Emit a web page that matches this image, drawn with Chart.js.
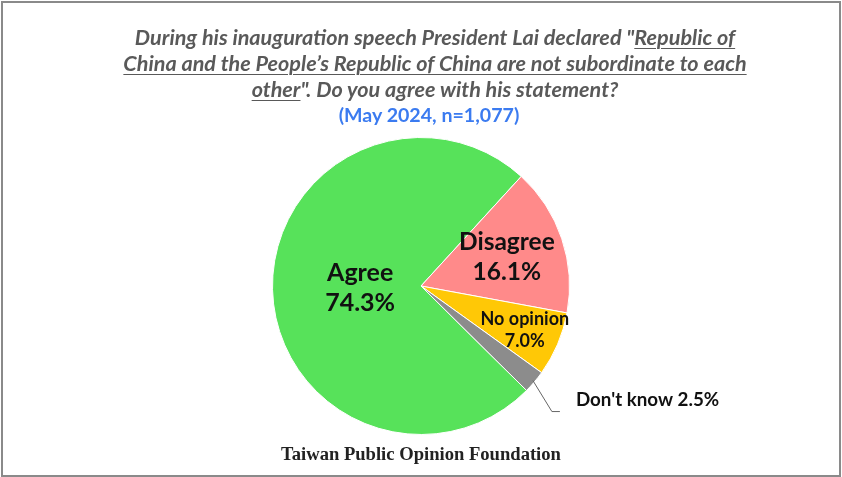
<!DOCTYPE html>
<html>
<head>
<meta charset="utf-8">
<script src="https://cdn.jsdelivr.net/npm/chart.js@4/dist/chart.umd.min.js"></script>
<style>
  body { margin: 0; background: #fff; }
  #wrap { position: relative; width: 842px; height: 477px; overflow: hidden; }
  #frame { position: absolute; left: 1px; top: 1px; width: 836px; height: 472px; border: 2px solid #8a8a8a; pointer-events: none; }
  #title { position: absolute; left: 14px; top: 24px; width: 842px; text-align: center;
           font: italic bold 21.6px Lato, sans-serif; color: #595959; line-height: 26px; }
  #title u { text-decoration-thickness: 1px; text-underline-offset: 3px; }
  #sub { position: absolute; left: 8px; top: 103px; width: 842px; text-align: center;
         font: bold 19.6px Lato, sans-serif; color: #3b7bf0; }
  #foot { position: absolute; left: 0; top: 443px; width: 842px; text-align: center;
          font: bold 18.6px "Liberation Serif", serif; color: #222; }
  canvas { position: absolute; left: 0; top: 0; }
</style>
</head>
<body>
<div id="wrap">
  <canvas id="pie" width="842" height="477"></canvas>
  <div id="title">During his inauguration speech President Lai declared "<u>Republic of</u><br><u>China and the People’s Republic of China are not subordinate to each</u><br><u>other</u>". Do you agree with his statement?</div>
  <div id="sub">(May 2024, n=1,077)</div>
  <div id="foot">Taiwan Public Opinion Foundation</div>
  <div id="frame"></div>
</div>
<script>
var categories = ['Agree', 'Disagree', 'No opinion', "Don't know"];
var values = [74.3, 16.1, 7.0, 2.5];
var colors = ['#57e25a', '#ff8a8a', '#ffc806', '#8c8c8c'];

// label placement per slice: radial fraction, font size
var labelPos = [0.41, 0.61, 0.76];
var labelSize = [25, 24.5, 18];

var sliceLabels = {
  id: 'sliceLabels',
  afterDatasetsDraw: function(chart) {
    var ctx = chart.ctx;
    var arcs = chart.getDatasetMeta(0).data;
    ctx.save();
    ctx.fillStyle = '#111';
    ctx.textAlign = 'center';
    ctx.textBaseline = 'middle';
    arcs.forEach(function(arc, i) {
      var p = arc.getProps(['x', 'y', 'startAngle', 'endAngle', 'outerRadius']);
      var mid = (p.startAngle + p.endAngle) / 2;
      var txt = values[i].toFixed(1) + '%';
      if (i < 3) {
        var r = p.outerRadius * labelPos[i];
        var cx = p.x + Math.cos(mid) * r;
        var cy = p.y + Math.sin(mid) * r;
        var fs = labelSize[i];
        ctx.font = 'bold ' + fs + 'px Lato, sans-serif';
        var gap = fs * 0.6;
        ctx.fillText(categories[i], cx, cy - gap);
        ctx.fillText(txt, cx, cy + gap);
      } else {
        // leader line for the small slice
        var sx = p.x + Math.cos(mid) * (p.outerRadius - 2);
        var sy = p.y + Math.sin(mid) * (p.outerRadius - 2);
        var ex = sx + 19, ey = sy + 31;
        ctx.strokeStyle = '#666';
        ctx.lineWidth = 1;
        ctx.beginPath();
        ctx.moveTo(sx, sy);
        ctx.lineTo(ex, ey);
        ctx.lineTo(ex + 8, ey);
        ctx.stroke();
        ctx.font = 'bold 18.8px Lato, sans-serif';
        ctx.textAlign = 'left';
        ctx.fillText(categories[i] + ' ' + txt, ex + 24, ey - 12);
      }
    });
    ctx.restore();
  }
};

new Chart(document.getElementById('pie').getContext('2d'), {
  type: 'pie',
  data: {
    labels: categories,
    datasets: [{
      data: values,
      backgroundColor: colors,
      borderColor: '#fff',
      borderWidth: 1
    }]
  },
  options: {
    responsive: false,
    animation: false,
    rotation: 134.7,
    layout: { padding: { top: 137, bottom: 42, left: 10, right: 10 } },
    plugins: {
      legend: { display: false },
      tooltip: { enabled: false }
    }
  },
  plugins: [sliceLabels]
});
</script>
</body>
</html>
